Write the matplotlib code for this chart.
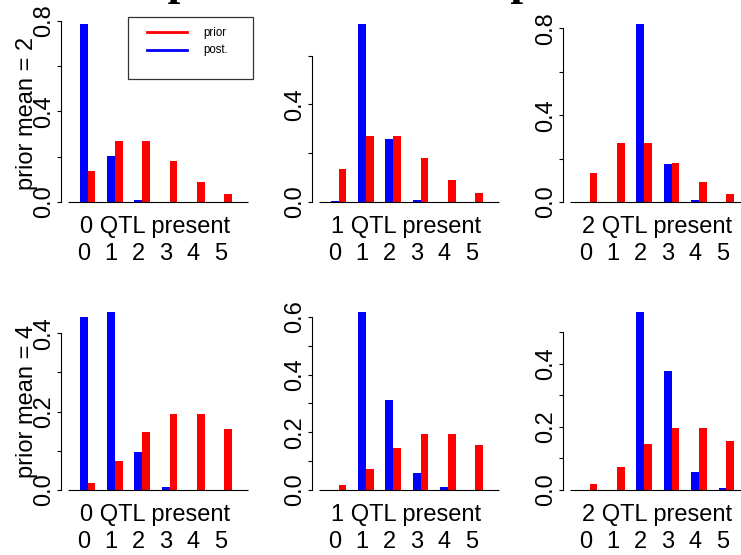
import matplotlib
matplotlib.use("Agg")
import matplotlib.pyplot as plt
from matplotlib.transforms import offset_copy
from matplotlib.lines import Line2D
from matplotlib.patches import Rectangle

plt.rcParams["font.family"] = ["Liberation Sans", "DejaVu Sans"]

# ---- data -------------------------------------------------------------
counts = [0, 1, 2, 3, 4, 5]
count_labels = ["0", "1", "2", "3", "4", "5"]
prior_means = [2, 4]
qtl_present = [0, 1, 2]

prior_mean2 = [0.135, 0.271, 0.271, 0.180, 0.090, 0.036]
prior_mean4 = [0.018, 0.073, 0.147, 0.195, 0.195, 0.156]

post_mean2_q0 = [0.785, 0.205, 0.010, 0.002, 0.000, 0.000]
post_mean2_q1 = [0.002, 0.730, 0.260, 0.008, 0.001, 0.000]
post_mean2_q2 = [0.000, 0.002, 0.820, 0.175, 0.009, 0.002]
post_mean4_q0 = [0.441, 0.454, 0.097, 0.008, 0.001, 0.000]
post_mean4_q1 = [0.001, 0.617, 0.313, 0.060, 0.009, 0.001]
post_mean4_q2 = [0.000, 0.001, 0.563, 0.375, 0.057, 0.005]

yticks_mean2_q0 = [0.0, 0.2, 0.4, 0.6, 0.8]
ylabels_mean2_q0 = ["0.0", "", "0.4", "", "0.8"]
yticks_mean2_q1 = [0.0, 0.2, 0.4, 0.6]
ylabels_mean2_q1 = ["0.0", "", "0.4", ""]
yticks_mean2_q2 = [0.0, 0.2, 0.4, 0.6, 0.8]
ylabels_mean2_q2 = ["0.0", "", "0.4", "", "0.8"]
yticks_mean4_q0 = [0.0, 0.1, 0.2, 0.3, 0.4]
ylabels_mean4_q0 = ["0.0", "", "0.2", "", "0.4"]
yticks_mean4_q1 = [0.0, 0.1, 0.2, 0.3, 0.4, 0.5, 0.6]
ylabels_mean4_q1 = ["0.0", "", "0.2", "", "0.4", "", "0.6"]
yticks_mean4_q2 = [0.0, 0.1, 0.2, 0.3, 0.4, 0.5]
ylabels_mean4_q2 = ["0.0", "", "0.2", "", "0.4", ""]

priors = [prior_mean2, prior_mean4]
posts = [[post_mean2_q0, post_mean2_q1, post_mean2_q2],
         [post_mean4_q0, post_mean4_q1, post_mean4_q2]]
yticks = [[yticks_mean2_q0, yticks_mean2_q1, yticks_mean2_q2],
          [yticks_mean4_q0, yticks_mean4_q1, yticks_mean4_q2]]
ylabels = [[ylabels_mean2_q0, ylabels_mean2_q1, ylabels_mean2_q2],
           [ylabels_mean4_q0, ylabels_mean4_q1, ylabels_mean4_q2]]

title = "The posterior and the prior"
legend_labels = ["prior", "post."]

# ---- layout (pixels) ----------------------------------------------------
W, H, DPI = 741, 555, 100
BLUE, RED = "#0000FF", "#FF0000"
FS = 17

fig = plt.figure(figsize=(W / DPI, H / DPI), dpi=DPI)


def fx(px):
    return px / W


def fy(py):
    return 1 - py / H


ax_w, ax_h = 194.2, 192.2
col_left = [60.8, 311.8, 562.8]
row_top = [16.9, 304.9]

group_step = 3.5   # two bars of width 1 plus a gap of 1.5
for r, pm in enumerate(prior_means):
    for c, q in enumerate(qtl_present):
        ax = fig.add_axes([fx(col_left[c]), fy(row_top[r] + ax_h),
                           ax_w / W, ax_h / H])
        prior = priors[r]
        post = posts[r][c]
        xb = [group_step * i + 1.5 for i in counts]
        xr = [group_step * i + 2.5 for i in counts]
        ax.bar(xb, post, width=1, align="edge", color=BLUE, linewidth=0)
        ax.bar(xr, prior, width=1, align="edge", color=RED, linewidth=0)
        top = max(max(post), max(prior))
        ax.set_xlim(-0.92, 23.92)
        ax.set_ylim(-0.04 * top, 1.04 * top)
        ax.hlines(0, 0, group_step * len(counts) + 2, color="black", lw=0.8)

        for s in ("top", "right", "bottom"):
            ax.spines[s].set_visible(False)
        tk = yticks[r][c]
        ax.spines["left"].set_bounds(tk[0], tk[-1])
        ax.spines["left"].set_linewidth(0.8)
        ax.set_xticks([])
        ax.set_yticks(tk)
        ax.set_yticklabels([])
        ax.tick_params(axis="y", length=3.2, width=0.8, direction="out")

        lab_tr = offset_copy(ax.get_yaxis_transform(), fig=fig, x=-11, y=0,
                             units="dots")
        for v, s in zip(tk, ylabels[r][c]):
            if s:
                ax.text(0, v, s, transform=lab_tr, rotation=90,
                        rotation_mode="anchor", ha="center", va="baseline",
                        fontsize=FS)

        tr1 = offset_copy(ax.transData, fig=fig, x=0, y=-31, units="dots")
        ax.text(11.15, 0, f"{q} QTL present", transform=tr1, ha="center",
                va="baseline", fontsize=FS, clip_on=False)
        tr2 = offset_copy(ax.transData, fig=fig, x=0, y=-58, units="dots")
        for i, s in zip(counts, count_labels):
            ax.text(group_step * i + 2, 0, s, transform=tr2, ha="center",
                    va="baseline", fontsize=FS, clip_on=False)

        if c == 0:
            fig.text(fx(33), fy(row_top[r] + ax_h / 2), f"prior mean = {pm}",
                     rotation=90, rotation_mode="anchor", ha="center",
                     va="baseline", fontsize=FS)

# overall title, mostly above the canvas
fig.text(fx(81), fy(-4.8), title, fontsize=32.6, fontweight="bold",
         family=["Liberation Serif", "DejaVu Serif"], ha="left", va="baseline")

# legend
fig.add_artist(Rectangle((fx(128), fy(79)), 125 / W, 62 / H,
                         transform=fig.transFigure, fill=False,
                         edgecolor="#333333", lw=0.9))
for yy, col, lab in zip([32.3, 50], [RED, BLUE], legend_labels):
    fig.add_artist(Line2D([fx(147), fx(187)], [fy(yy), fy(yy)],
                          transform=fig.transFigure, color=col, lw=2.0))
    fig.text(fx(203), fy(yy + 0.5), lab, fontsize=8.3, va="center",
             ha="left")

fig.savefig("out.png", dpi=DPI)
